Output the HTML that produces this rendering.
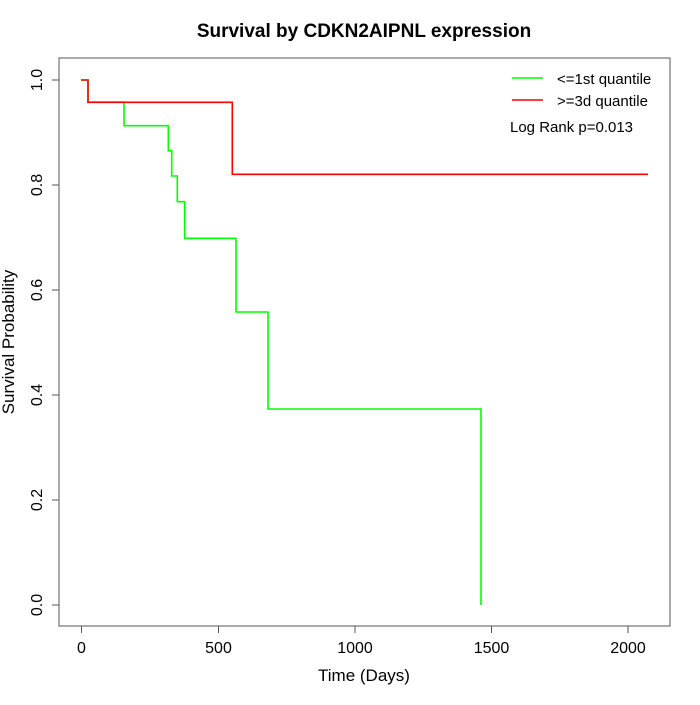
<!DOCTYPE html><html><head><style>body{margin:0;background:#fff}</style></head><body>
<svg width="700" height="700" xmlns="http://www.w3.org/2000/svg" font-family="Liberation Sans, Arial, sans-serif">
<rect width="700" height="700" fill="#fff"/>
<rect x="59" y="58" width="611" height="568" fill="none" stroke="#555" stroke-width="1"/>
<g stroke="#555">
<line x1="81.5" y1="626" x2="81.5" y2="633"/><line x1="218.5" y1="626" x2="218.5" y2="633"/><line x1="355" y1="626" x2="355" y2="633"/><line x1="491.5" y1="626" x2="491.5" y2="633"/><line x1="628" y1="626" x2="628" y2="633"/>
<line x1="52" y1="80" x2="59" y2="80"/><line x1="52" y1="185" x2="59" y2="185"/><line x1="52" y1="290" x2="59" y2="290"/><line x1="52" y1="395" x2="59" y2="395"/><line x1="52" y1="500" x2="59" y2="500"/><line x1="52" y1="605" x2="59" y2="605"/>
</g>
<g font-size="16" fill="#000" text-anchor="middle">
<text x="81.5" y="653">0</text><text x="218.5" y="653">500</text><text x="355" y="653">1000</text><text x="491.5" y="653">1500</text><text x="628" y="653">2000</text>
<text transform="translate(42,80) rotate(-90)">1.0</text>
<text transform="translate(42,185) rotate(-90)">0.8</text>
<text transform="translate(42,290) rotate(-90)">0.6</text>
<text transform="translate(42,395) rotate(-90)">0.4</text>
<text transform="translate(42,500) rotate(-90)">0.2</text>
<text transform="translate(42,605) rotate(-90)">0.0</text>
<text x="364" y="681" font-size="17">Time (Days)</text>
<text transform="translate(14,342) rotate(-90)" font-size="17">Survival Probability</text>
<text x="364" y="37" font-size="19" font-weight="bold">Survival by CDKN2AIPNL expression</text>
</g>
<polyline fill="none" stroke="#00ff00" stroke-width="1.6" points="81,80 88,80 88,102 124,102 124,125.7 168.3,125.7 168.3,150.7 171.7,150.7 171.7,176 177.3,176 177.3,201.7 184.7,201.7 184.7,238.3 236,238.3 236,312 268,312 268,409 481,409 481,605"/>
<polyline fill="none" stroke="#ff0000" stroke-width="1.6" points="81,80 88,80 88,102.3 232.3,102.3 232.3,174.3 648,174.3"/>
<line x1="512" y1="78" x2="543" y2="78" stroke="#00ff00" stroke-width="1.6"/>
<line x1="512" y1="100" x2="543" y2="100" stroke="#ff0000" stroke-width="1.6"/>
<g font-size="15" fill="#000">
<text x="557" y="84">&lt;=1st quantile</text>
<text x="557" y="106">&gt;=3d quantile</text>
<text x="510" y="132">Log Rank p=0.013</text>
</g>
</svg></body></html>
